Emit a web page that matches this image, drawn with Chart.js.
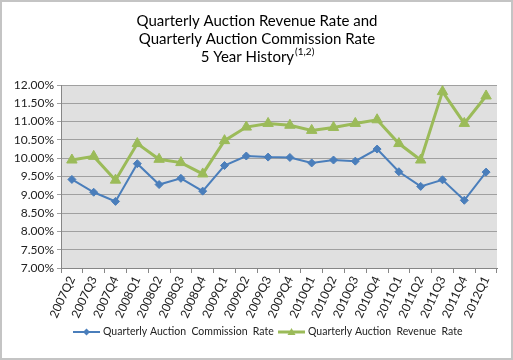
<!DOCTYPE html>
<html>
<head>
<meta charset="utf-8">
<script src="https://cdn.jsdelivr.net/npm/chart.js@4/dist/chart.umd.min.js"></script>
<style>
  html, body { margin: 0; padding: 0; background: #fff; }
  #wrap { width: 513px; height: 360px; }
</style>
</head>
<body>
<div id="wrap"><canvas id="auctionChart" width="513" height="360"></canvas></div>
<script>
var quarters = ['2007Q2', '2007Q3', '2007Q4', '2008Q1', '2008Q2', '2008Q3', '2008Q4',
    '2009Q1', '2009Q2', '2009Q3', '2009Q4', '2010Q1', '2010Q2', '2010Q3', '2010Q4',
    '2011Q1', '2011Q2', '2011Q3', '2011Q4', '2012Q1'];
var commissionRate = [9.42, 9.07, 8.82, 9.85, 9.28, 9.45, 9.10, 9.80, 10.06, 10.03,
    10.02, 9.87, 9.95, 9.92, 10.25, 9.63, 9.23, 9.41, 8.85, 9.62];
var revenueRate = [9.95, 10.05, 9.40, 10.40, 9.97, 9.88, 9.57, 10.48, 10.85, 10.95,
    10.90, 10.76, 10.84, 10.95, 11.05, 10.40, 9.95, 11.82, 10.95, 11.70];
var titleLines = ['Quarterly Auction Revenue Rate and', 'Quarterly Auction Commission Rate', '5 Year History'];
var titleNote = '(1,2)';
var legendLabels = ['Quarterly Auction  Commission  Rate', 'Quarterly Auction  Revenue  Rate'];

var FONT = 'Lato, "Liberation Sans", sans-serif';

// background, plot fill, title and legend
var decor = {
    id: 'decor',
    beforeDraw: function (chart) {
        var ctx = chart.ctx, a = chart.chartArea;
        ctx.save();
        ctx.fillStyle = '#fff';
        ctx.fillRect(0, 0, chart.width, chart.height);
        ctx.strokeStyle = '#c4c4c4';
        ctx.lineWidth = 2;
        ctx.strokeRect(1, 1, chart.width - 2, chart.height - 2);
        ctx.fillStyle = '#e0e0e0';
        ctx.fillRect(a.left, a.top, a.right - a.left, a.bottom - a.top);
        ctx.restore();
    },
    afterDraw: function (chart) {
        var ctx = chart.ctx;
        ctx.save();
        ctx.fillStyle = '#000';
        ctx.textBaseline = 'middle';
        ctx.textAlign = 'center';
        ctx.font = '15px ' + FONT;
        var cx = 257;
        ctx.fillText(titleLines[0], cx, 21);
        ctx.fillText(titleLines[1], cx, 39);
        // last line with superscript note
        var w1 = ctx.measureText(titleLines[2]).width;
        ctx.font = '10px ' + FONT;
        var w2 = ctx.measureText(titleNote).width;
        var x0 = cx - (w1 + w2) / 2;
        ctx.textAlign = 'left';
        ctx.font = '15px ' + FONT;
        ctx.fillText(titleLines[2], x0, 57);
        ctx.font = '10px ' + FONT;
        ctx.fillText(titleNote, x0 + w1 + 1, 52);

        // legend
        var items = [{x: 73}, {x: 278}];
        ctx.font = '10.5px ' + FONT;
        items.forEach(function (it, i) {
            var ds = chart.data.datasets[i];
            var y = 332;
            ctx.strokeStyle = ds.borderColor;
            ctx.lineWidth = ds.borderWidth;
            ctx.beginPath();
            ctx.moveTo(it.x, y);
            ctx.lineTo(it.x + 27, y);
            ctx.stroke();
            ctx.fillStyle = ds.borderColor;
            var mx = it.x + 13.5;
            ctx.beginPath();
            if (i === 0) {
                ctx.moveTo(mx, y - 3.5); ctx.lineTo(mx + 3.5, y);
                ctx.lineTo(mx, y + 3.5); ctx.lineTo(mx - 3.5, y);
            } else {
                ctx.moveTo(mx, y - 4); ctx.lineTo(mx + 4, y + 3); ctx.lineTo(mx - 4, y + 3);
            }
            ctx.closePath();
            ctx.fill();
            ctx.fillStyle = '#222';
            ctx.fillText(legendLabels[i], it.x + 30, y);
        });
        ctx.restore();
    }
};

var ctx = document.getElementById('auctionChart').getContext('2d');
var auctionChart = new Chart(ctx, {
    type: 'line',
    data: {
        labels: quarters,
        datasets: [{
            label: 'Quarterly Auction Commission Rate',
            data: commissionRate,
            borderColor: '#4a7ebb',
            backgroundColor: '#4a7ebb',
            borderWidth: 2,
            pointStyle: 'rectRot',
            pointRadius: 4,
            pointBorderWidth: 1,
            tension: 0
        }, {
            label: 'Quarterly Auction Revenue Rate',
            data: revenueRate,
            borderColor: '#9bbb59',
            backgroundColor: '#9bbb59',
            borderWidth: 3,
            pointStyle: 'triangle',
            pointRadius: 6,
            pointBorderWidth: 1,
            tension: 0
        }]
    },
    options: {
        responsive: false,
        animation: false,
        layout: { padding: { left: 0, right: 16, top: 85, bottom: 0 } },
        scales: {
            x: {
                offset: true,
                afterFit: function (scale) { scale.height = 92; },
                grid: { display: true, drawOnChartArea: false, color: '#868686', tickLength: 5, offset: true },
                border: { color: '#868686' },
                ticks: {
                    minRotation: 65, maxRotation: 65, autoSkip: false, padding: 1,
                    color: '#222', font: { family: FONT, size: 12 }
                }
            },
            y: {
                min: 7, max: 12,
                afterFit: function (scale) { scale.width = 61; },
                grid: { color: '#a0a0a0', tickLength: 4 },
                border: { color: '#868686' },
                ticks: {
                    stepSize: 0.5, padding: 3, color: '#222',
                    font: { family: FONT, size: 12 },
                    callback: function (v) { return v.toFixed(2) + '%'; }
                }
            }
        },
        plugins: {
            legend: { display: false },
            title: { display: false },
            tooltip: { enabled: false }
        }
    },
    plugins: [decor]
});
</script>
</body>
</html>
